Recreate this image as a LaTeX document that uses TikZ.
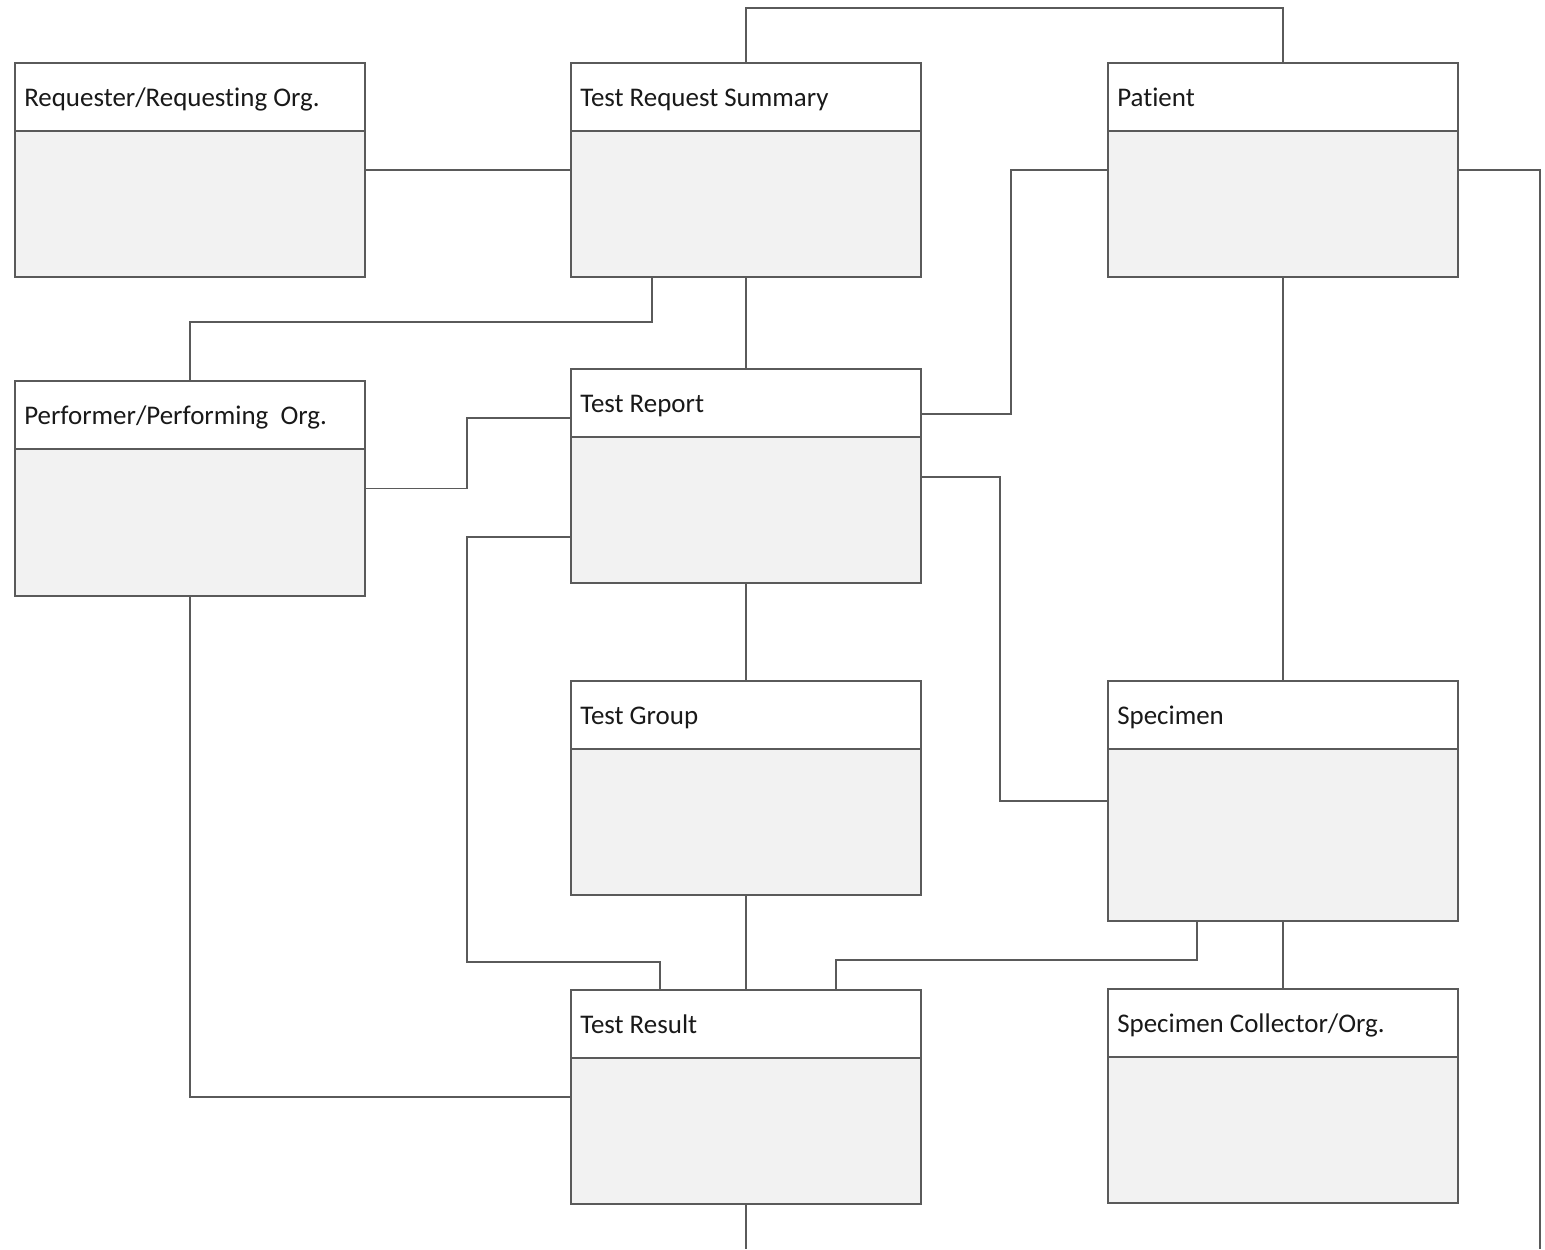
\documentclass[tikz,border=0pt]{standalone}
\usepackage{fontspec}
\setmainfont[Ligatures=NoCommon]{Carlito}
\usetikzlibrary{calc}
\definecolor{boxfill}{HTML}{F2F2F2}
\definecolor{linecol}{HTML}{5A5A5A}
\tikzset{
  ent/.style={draw=linecol, line width=1.1pt, fill=boxfill, minimum width=262.5pt, anchor=north west, inner sep=0pt, outer sep=0pt},
  hdr/.style={draw=linecol, line width=1.1pt, fill=white, minimum width=262.5pt, minimum height=51pt, anchor=north west, inner sep=0pt, outer sep=0pt},
  lbl/.style={anchor=base west, inner sep=0pt, font=\fontsize{20.2pt}{22pt}\selectfont, text=black!90},
  conn/.style={draw=linecol, line width=1.1pt}
}
\newcommand{\entity}[5]{%
  \node[ent, minimum height=#4*0.75pt] (#1) at (#2,#3) {};
  \node[hdr] (#1-h) at (#1.north west) {};
  \node[lbl] (#1-t) at ($(#1.north west)+(9,43)$) {#5};
}
\begin{document}
\begin{tikzpicture}[x=0.75pt,y=-0.75pt]
\useasboundingbox (0,0) rectangle (1545,1249);
\fill[white] (0,0) rectangle (1545,1249);
\coordinate (topy) at (0,8);
\coordinate (btm) at (0,1249);
\coordinate (rx) at (1540,0);
\entity{req}{15}{63}{214}{Requester/Requesting Org.}
\entity{trs}{571}{63}{214}{Test Request Summary}
\entity{pat}{1108}{63}{214}{Patient}
\entity{perf}{15}{381}{215}{Performer/Performing\ \ Org.}
\entity{rep}{571}{369}{214}{Test Report}
\entity{grp}{571}{681}{214}{Test Group}
\entity{spec}{1108}{681}{240}{Specimen}
\entity{res}{571}{990}{214}{Test Result}
\entity{coll}{1108}{989}{214}{Specimen Collector/Org.}
% connectors
\draw[conn] (trs.north) |- (topy -| pat.north) -- (pat.north);
\draw[conn] (req.east) -- (trs.west);
\draw[conn] ($(trs.south west)+(81,0)$) -- ++(0,45) -| (perf.north);
\draw[conn] (trs.south) -- (rep.north);
\draw[conn] (pat.west) -- ++(-97,0) |- ($(rep.north east)+(0,45)$);
\draw[conn] (pat.east) -- (rx |- pat.east) -- (rx |- btm);
\draw[conn] (perf.east) -- ++(102,0) |- ($(rep.north west)+(0,49)$);
\draw[conn] ($(rep.north west)+(0,168)$) -- ++(-104,0) |- ($(res.north west)+(89,-28)$) -- ($(res.north west)+(89,0)$);
\draw[conn] ($(rep.north east)+(0,108)$) -- ++(79,0) |- (spec.west);
\draw[conn] (rep.south) -- (grp.north);
\draw[conn] (pat.south) -- (spec.north);
\draw[conn] (grp.south) -- (res.north);
\draw[conn] ($(spec.south west)+(89,0)$) -- ++(0,39) -| ($(res.north west)+(265,0)$);
\draw[conn] (spec.south) -- (coll.north);
\draw[conn] (perf.south) |- (res.west);
\draw[conn] (res.south) -- (res.south |- btm);
\end{tikzpicture}
\end{document}
